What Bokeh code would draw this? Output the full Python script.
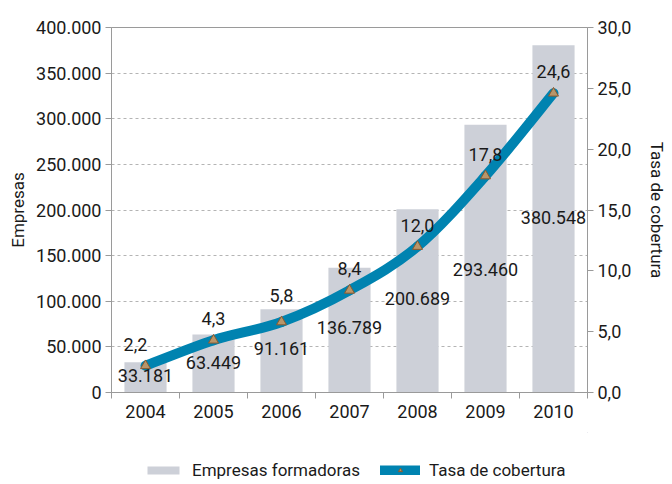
from bokeh.plotting import figure
from bokeh.layouts import column
from bokeh.models import (Range1d, LinearAxis, FixedTicker, Legend, LegendItem,
                          ColumnDataSource)
from bokeh.core.properties import value
from bokeh.embed import file_html
from bokeh.resources import INLINE

# ---- data ----
years = ["2004", "2005", "2006", "2007", "2008", "2009", "2010"]
empresas = [33181, 63449, 91161, 136789, 200689, 293460, 380548]
tasa = [2.2, 4.3, 5.8, 8.4, 12.0, 17.8, 24.6]
left_ticks = [0, 50000, 100000, 150000, 200000, 250000, 300000, 350000, 400000]
right_ticks = [0, 5, 10, 15, 20, 25, 30]
series_names = ["Empresas formadoras", "Tasa de cobertura"]

# label nudges (pixels), kept apart from data
bar_label_dy_px = [-2, -1, -2, -3, -2, 11, -1]
rate_label_dx_px = [-10, 0, 0, 0, 0, 0, 0]
rate_label_dy_px = [0, 0, -5, 0, 0, 0, 0]

FONT = "Roboto"
FS = "18px"
TXT = "#1a1a1a"
AXC = "#9a9a9a"
BAR = "#cdd0d8"
LINE = "#0083b0"
MK_FILL = "#b8966a"
MK_LINE = "#8c5a2e"


def miles(v):
    return f"{v:,}".replace(",", ".")


def dec(v):
    return f"{v:.1f}".replace(".", ",")


xs = list(range(len(years)))
n = len(xs)

p = figure(frame_width=476, frame_height=365, output_backend="svg",
           toolbar_location=None,
           x_range=Range1d(-0.5, n - 0.5), y_range=Range1d(0, 400000),
           min_border_left=111, min_border_right=85, min_border_top=27,
           min_border_bottom=40)
p.extra_y_ranges = {"rate": Range1d(0, 30)}
p.outline_line_color = AXC
p.outline_line_width = 1

# grid
p.xgrid.visible = False
p.ygrid.ticker = FixedTicker(ticks=left_ticks)
p.ygrid.grid_line_color = "#b4b4b4"
p.ygrid.grid_line_dash = "3 3"
p.ygrid.grid_line_width = 1

# bars
src = ColumnDataSource(dict(x=xs, top=empresas))
p.vbar(x="x", top="top", width=0.62, source=src, fill_color=BAR, line_color=None)

# smoothed line through the rate points (Catmull-Rom -> bezier)
x0, y0, x1, y1, cx0, cy0, cx1, cy1 = [], [], [], [], [], [], [], []
for i in range(n - 1):
    pa = (xs[max(i - 1, 0)], tasa[max(i - 1, 0)])
    pb = (xs[i], tasa[i])
    pc = (xs[i + 1], tasa[i + 1])
    pd = (xs[min(i + 2, n - 1)], tasa[min(i + 2, n - 1)])
    x0.append(pb[0]); y0.append(pb[1])
    x1.append(pc[0]); y1.append(pc[1])
    cx0.append(pb[0] + (pc[0] - pa[0]) / 6); cy0.append(pb[1] + (pc[1] - pa[1]) / 6)
    cx1.append(pc[0] - (pd[0] - pb[0]) / 6); cy1.append(pc[1] - (pd[1] - pb[1]) / 6)
p.bezier(x0=x0, y0=y0, x1=x1, y1=y1, cx0=cx0, cy0=cy0, cx1=cx1, cy1=cy1,
         y_range_name="rate", line_color=LINE, line_width=10, line_cap="round")
p.scatter(x=xs, y=tasa, y_range_name="rate", marker="triangle",
          size=10, fill_color=MK_FILL, line_color=MK_LINE, line_width=1)

# bar value labels (centred in the bars, drawn above the line)
for i in xs:
    p.text(x=[xs[i]], y=[empresas[i] / 2], text=[miles(empresas[i])],
           text_font=value(FONT), text_font_size=FS, text_color=TXT,
           text_align="center", text_baseline="middle",
           y_offset=bar_label_dy_px[i])
# rate labels
for i in xs:
    p.text(x=[xs[i]], y=[tasa[i]], text=[dec(tasa[i])], y_range_name="rate",
           text_font=value(FONT), text_font_size=FS, text_color=TXT,
           text_align="center", text_baseline="bottom",
           y_offset=-15 + rate_label_dy_px[i], x_offset=rate_label_dx_px[i])

# axes
xa = p.xaxis[0]
xa.ticker = FixedTicker(ticks=xs, minor_ticks=[i - 0.5 for i in range(n + 1)])
xa.major_label_overrides = {i: years[i] for i in xs}
xa.major_tick_out = 0
xa.major_tick_in = 0
xa.minor_tick_out = 6
xa.minor_tick_in = 0
xa.minor_tick_line_color = AXC
xa.axis_line_color = AXC
xa.major_label_text_font = FONT
xa.major_label_text_font_size = FS
xa.major_label_text_color = TXT
xa.major_label_standoff = 6

ya = p.yaxis[0]
ya.ticker = FixedTicker(ticks=left_ticks, minor_ticks=[])
ya.major_label_overrides = {t: miles(t) for t in left_ticks}
ya.axis_label = "Empresas"

ra = LinearAxis(y_range_name="rate",
                ticker=FixedTicker(ticks=right_ticks, minor_ticks=[]))
ra.major_label_overrides = {t: dec(t) for t in right_ticks}
ra.axis_label = "Tasa de cobertura"
p.add_layout(ra, "right")

for ax in (ya, ra):
    ax.axis_line_color = AXC
    ax.major_tick_line_color = AXC
    ax.major_tick_out = 6
    ax.major_tick_in = 0
    ax.minor_tick_out = 0
    ax.minor_tick_in = 0
    ax.major_label_text_font = FONT
    ax.major_label_text_font_size = FS
    ax.major_label_text_color = TXT
    ax.major_label_standoff = 4
    ax.axis_label_text_font = FONT
    ax.axis_label_text_font_size = "17px"
    ax.axis_label_text_font_style = "normal"
    ax.axis_label_text_color = TXT
ya.axis_label_standoff = 5
ra.axis_label_standoff = 13

# legend strip below the chart: its series lie outside its visible ranges,
# so only the legend shows
lg = figure(width=672, height=52, output_backend="svg", toolbar_location=None,
            x_range=Range1d(-10, -9), y_range=Range1d(-10, -9),
            min_border=0, x_axis_type=None, y_axis_type=None)
lg.outline_line_color = None
lg.grid.visible = False
lsrc = ColumnDataSource(dict(x=xs, y=tasa))
r_bar = lg.vbar(x="x", top="y", width=0.5, source=lsrc,
                fill_color=BAR, line_color=None)
r_line = lg.line(x="x", y="y", source=lsrc, line_color=LINE,
                 line_width=10, line_cap="round")
r_mk = lg.scatter(x="x", y="y", source=lsrc, marker="triangle",
                  size=10, fill_color=MK_FILL, line_color=MK_LINE, line_width=1)
legend = Legend(items=[LegendItem(label=series_names[0], renderers=[r_bar]),
                       LegendItem(label=series_names[1], renderers=[r_line, r_mk])],
                orientation="horizontal", location=(32, 4),
                label_text_font=FONT, label_text_font_size="17px",
                label_text_color=TXT, glyph_width=40, glyph_height=10,
                spacing=20, border_line_color=None, background_fill_alpha=0,
                margin=0, padding=0, label_standoff=9)
lg.add_layout(legend, "center")

open("out.html", "w").write(file_html(column(p, lg, spacing=0), INLINE))
